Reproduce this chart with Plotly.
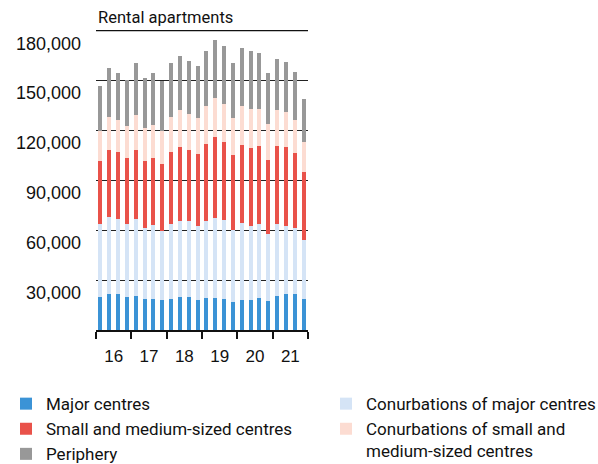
import plotly.graph_objects as go

# quarterly data, Q1 2016 .. Q4 2021
years = [2016, 2017, 2018, 2019, 2020, 2021]
quarters = [1, 2, 3, 4]
year_labels = ["16", "17", "18", "19", "20", "21"]

major = [19900, 21600, 21400, 19900, 20400, 18600, 18600, 17800, 18600, 19800, 19800, 18000,
         19200, 19200, 18600, 16800, 18000, 18000, 19300, 17400, 20400, 21400, 21600, 18600]
conurb_major = [43600, 46500, 45500, 43600, 46500, 42900, 44300, 41500, 44900, 45900, 45900, 44300,
                46100, 48300, 47700, 43500, 46100, 44300, 44200, 40300, 43100, 41300, 39700, 35300]
small_medium = [37900, 40300, 40100, 39700, 41500, 40300, 40700, 40500, 43500, 44100, 42700, 43300,
                46500, 48700, 46900, 44700, 47300, 46900, 46900, 44700, 46900, 47100, 44900, 40900]
conurb_small = [18400, 19900, 19400, 19600, 20900, 19600, 19900, 20000, 21300, 22500, 21500, 21900,
                22800, 23300, 22900, 22700, 23300, 23600, 22700, 21400, 21800, 21300, 20300, 18000]
periphery = [26900, 29200, 28300, 27700, 31000, 30100, 31200, 29700, 32400, 32200, 31800, 31000,
             33100, 34600, 34600, 32600, 34800, 34900, 33200, 30700, 30700, 30000, 28600, 26300]

y_ticks = [30000, 60000, 90000, 120000, 150000, 180000]

# bar centre = middle of the quarter on a continuous year axis
x = [y + (q - 0.5) / 4 for y in years for q in quarters]

NARROW = "Roboto, Liberation Sans Narrow, sans-serif"
REGULAR = "Liberation Sans, Arial, sans-serif"

series = [
    ("Major centres", major, "#3b93d6", "legend"),
    ("Conurbations of major centres", conurb_major, "#d5e4f6", "legend2"),
    ("Small and medium-sized centres", small_medium, "#e9524a", "legend"),
    ("Conurbations of small and<br>medium-sized centres", conurb_small, "#fcdcd2", "legend2"),
    ("Periphery", periphery, "#989898", "legend"),
]

fig = go.Figure()
for name, vals, color, leg in series:
    fig.add_trace(go.Bar(x=x, y=vals, name=name, marker=dict(color=color, line=dict(width=0)),
                         legend=leg))

leg_style = dict(y=-0.187, xanchor="left", yanchor="top", orientation="v",
                 traceorder="normal", font=dict(family=NARROW, size=17), valign="top",
                 bgcolor="rgba(0,0,0,0)")

fig.update_layout(
    barmode="stack",
    bargap=0.55,
    width=598,
    height=464,
    margin=dict(l=96, r=290, t=30, b=134, autoexpand=False),
    paper_bgcolor="white",
    plot_bgcolor="white",
    font=dict(family=NARROW, size=17, color="#111111"),
    showlegend=True,
    legend=dict(x=-0.4245, **leg_style),
    legend2=dict(x=1.085, **leg_style),
)

fig.update_xaxes(
    range=[years[0], years[-1] + 1],
    tickvals=[y + 0.5 for y in years],
    ticktext=year_labels,
    ticks="",
    ticklabelstandoff=10,
    tickfont=dict(family=REGULAR, size=17),
    showgrid=False,
    showline=True, linecolor="#111111", linewidth=1.5,
    minor=dict(tickvals=years + [years[-1] + 1], ticks="outside", ticklen=7,
               tickwidth=1.5, tickcolor="#111111", showgrid=False),
    zeroline=False,
    automargin=False,
)

fig.update_yaxes(
    range=[0, 180400],
    tickvals=y_ticks,
    ticktext=[f"{v:,}" for v in y_ticks],
    ticklabelposition="outside bottom",
    ticklabelstandoff=14,
    tickfont=dict(family=REGULAR, size=18),
    ticks="",
    showgrid=True, gridcolor="#222222", gridwidth=1,
    showline=False, zeroline=False,
    automargin=False,
)

# top gridline doubles as the title underline
fig.add_hline(y=y_ticks[-1], line=dict(color="#111111", width=1.2), layer="below")

fig.add_annotation(
    text="Rental apartments", xref="paper", yref="paper", x=0, y=1,
    xanchor="left", yanchor="bottom", yshift=1, showarrow=False,
    font=dict(family=NARROW, size=16.5, color="#111111"),
)

fig.write_html("out.html", config={"displayModeBar": False},
               post_script="document.body.style.margin='0';")
